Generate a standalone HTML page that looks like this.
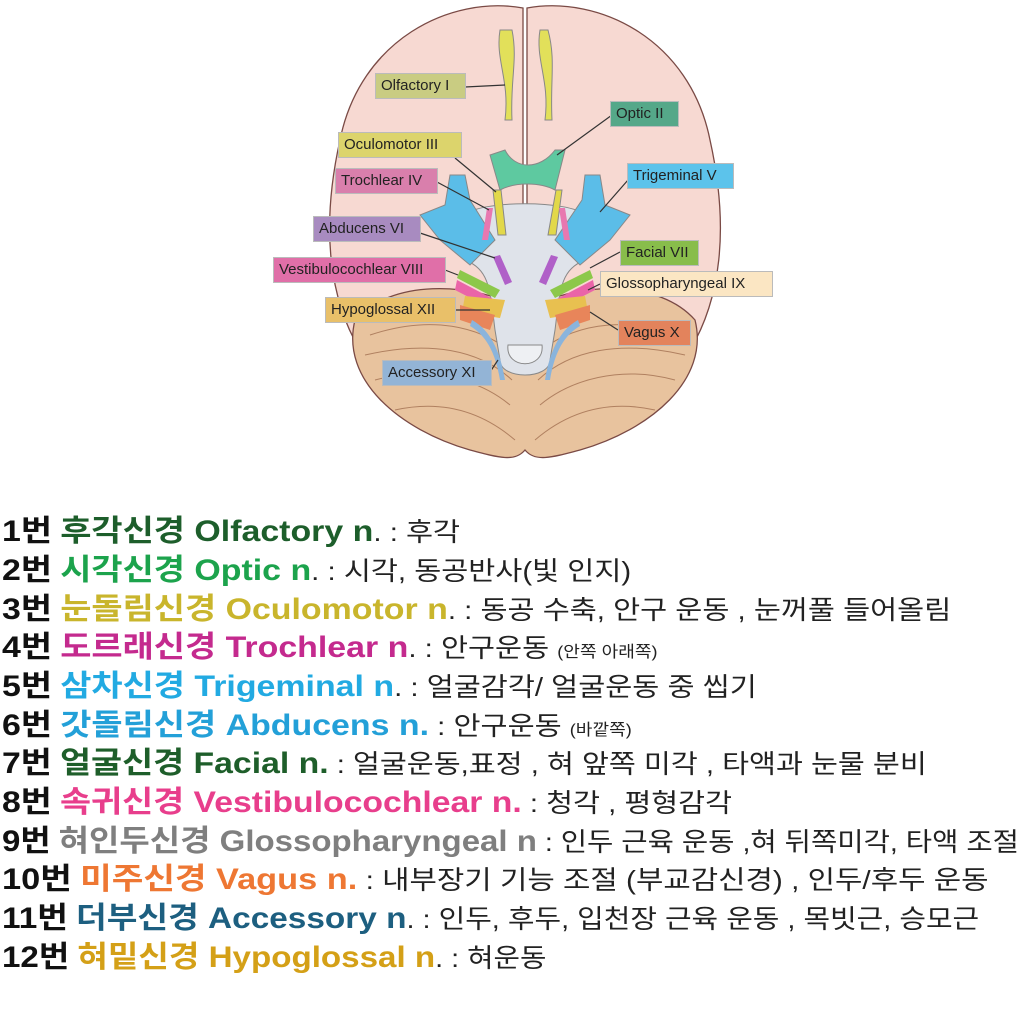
<!DOCTYPE html>
<html><head><meta charset="utf-8"><style>
body{margin:0;width:1024px;height:1012px;background:#fff;overflow:hidden;position:relative;font-family:"Liberation Sans","Noto Sans CJK KR",sans-serif}
.lab{position:absolute;font-size:15px;color:#222;border:1px solid #bbb;box-sizing:border-box;padding:0 5px;line-height:24px;white-space:nowrap}
.ln{position:absolute;left:2px;white-space:nowrap;font-size:26px;color:#222;transform-origin:0 50%;line-height:36px;transform:scaleX(1.13)}
.ln b{font-size:30px;font-weight:bold}
.k{color:#111}
</style></head><body>
<svg width="1024" height="470" style="position:absolute;left:0;top:0">
<g stroke="#7a4a45" stroke-width="1.3">
<path d="M527 8 C600 -5 690 40 710 140 C730 230 720 300 690 350 C660 400 620 420 560 430 L527 420 Z" fill="#f7d9d2"/>
<path d="M523 8 C450 -5 360 40 340 140 C320 230 330 300 360 350 C390 400 430 420 490 430 L523 420 Z" fill="#f7d9d2"/>
<path d="M525 310 C470 280 390 280 355 320 C340 380 400 430 470 450 C500 458 515 462 525 450 C535 462 550 458 580 450 C650 430 710 380 695 320 C660 280 580 280 525 310Z" fill="#e8c39e"/>
</g>
<g stroke="#b08060" fill="none" stroke-width="1">
<path d="M370 335 C430 315 480 325 515 355"/><path d="M365 355 C430 340 480 350 512 380"/><path d="M375 380 C430 365 480 380 510 405"/><path d="M395 410 C440 400 480 410 515 440"/>
<path d="M680 335 C620 315 570 325 535 355"/><path d="M685 355 C620 340 570 350 538 380"/><path d="M675 380 C620 365 570 380 540 405"/><path d="M655 410 C610 400 570 410 535 440"/>
</g>
<path d="M465 215 C480 200 570 200 585 215 L585 260 C560 270 560 290 555 330 L550 360 C550 380 500 380 500 360 L495 330 C490 290 490 270 465 260Z" fill="#dfe3ea" stroke="#888"/>
<path d="M508 345 C505 370 545 370 542 345 Z" fill="#eef0f3" stroke="#888"/>
<path d="M500 30 C495 60 510 80 505 120 L512 120 C510 80 518 60 512 30Z" fill="#e2e05a" stroke="#888"/>
<path d="M540 30 C535 60 550 80 545 120 L552 120 C550 80 556 60 548 30Z" fill="#e2e05a" stroke="#888"/>
<path d="M490 155 L505 150 C515 170 540 170 555 150 L565 150 L555 190 C540 182 515 182 500 190Z" fill="#5ec9a0" stroke="#888"/>
<path d="M450 175 L465 175 L470 200 L495 240 L470 265 L440 240 L420 215 L445 205Z" fill="#5bbde8" stroke="#888"/>
<path d="M600 175 L585 175 L582 200 L555 240 L580 265 L610 240 L630 215 L605 205Z" fill="#5bbde8" stroke="#888"/>
<path d="M493 190 L498 235 L506 235 L501 190Z" fill="#e2d84a" stroke="#888"/>
<path d="M556 190 L548 235 L556 235 L562 190Z" fill="#e2d84a" stroke="#888"/>
<path d="M487 208 L482 240 L488 240 L493 208Z" fill="#e878b0"/>
<path d="M565 208 L570 240 L564 240 L559 208Z" fill="#e878b0"/>
<path d="M493 257 L505 285 L512 282 L500 255Z" fill="#b060c8"/>
<path d="M558 257 L546 285 L539 282 L551 255Z" fill="#b060c8"/>
<path d="M460 270 L500 290 L495 298 L457 278Z" fill="#8cc84a"/>
<path d="M590 270 L550 290 L555 298 L593 278Z" fill="#8cc84a"/>
<path d="M457 280 L495 300 L490 308 L455 290Z" fill="#ea64a8"/>
<path d="M593 280 L555 300 L560 308 L595 290Z" fill="#ea64a8"/>
<path d="M465 296 L505 300 L500 318 L462 312Z" fill="#e8c050"/>
<path d="M585 296 L545 300 L550 318 L588 312Z" fill="#e8c050"/>
<path d="M460 305 L495 315 L490 330 L460 320Z" fill="#e8855a"/>
<path d="M590 305 L555 315 L560 330 L590 320Z" fill="#e8855a"/>
<path d="M472 320 C490 330 500 350 505 380 L500 380 C495 350 485 335 470 326Z" fill="#8ab4dc"/>
<path d="M578 320 C560 330 550 350 545 380 L550 380 C555 350 565 335 580 326Z" fill="#8ab4dc"/>
<g stroke="#333" stroke-width="1.2">
<line x1="465" y1="87" x2="505" y2="85"/><line x1="612" y1="115" x2="557" y2="155"/><line x1="455" y1="158" x2="496" y2="192"/>
<line x1="437" y1="182" x2="489" y2="210"/><line x1="628" y1="180" x2="600" y2="212"/><line x1="420" y1="233" x2="495" y2="258"/>
<line x1="620" y1="252" x2="590" y2="268"/><line x1="445" y1="270" x2="458" y2="275"/><line x1="600" y1="284" x2="588" y2="290"/>
<line x1="455" y1="310" x2="490" y2="310"/><line x1="618" y1="330" x2="590" y2="312"/><line x1="490" y1="372" x2="498" y2="360"/>
</g>
</svg>
<div class="lab" style="left:375px;top:73px;width:91px;background:#c9cc82">Olfactory I</div>
<div class="lab" style="left:610px;top:101px;width:69px;background:#55a889">Optic II</div>
<div class="lab" style="left:338px;top:132px;width:124px;background:#dcd46c">Oculomotor III</div>
<div class="lab" style="left:335px;top:168px;width:103px;background:#d97fac">Trochlear IV</div>
<div class="lab" style="left:627px;top:163px;width:107px;background:#5cc3eb">Trigeminal V</div>
<div class="lab" style="left:313px;top:216px;width:108px;background:#a88bc0">Abducens VI</div>
<div class="lab" style="left:620px;top:240px;width:79px;background:#88bd4b">Facial VII</div>
<div class="lab" style="left:273px;top:257px;width:173px;background:#e06fa8">Vestibulocochlear VIII</div>
<div class="lab" style="left:600px;top:271px;width:173px;background:#fbe6c3">Glossopharyngeal IX</div>
<div class="lab" style="left:325px;top:297px;width:131px;background:#e9c069">Hypoglossal XII</div>
<div class="lab" style="left:618px;top:320px;width:73px;background:#e3835c">Vagus X</div>
<div class="lab" style="left:382px;top:360px;width:110px;background:#93b4d6">Accessory XI</div>

<div class="ln" style="top:514px"><b class="k">1번</b> <b style="color:#1d5e2b">후각신경 Olfactory n</b>. :  후각</div>
<div class="ln" style="top:553px"><b class="k">2번</b> <b style="color:#1ca34c">시각신경 Optic n</b>. : 시각, 동공반사(빛 인지)</div>
<div class="ln" style="top:592px"><b class="k">3번</b> <b style="color:#c9b52c">눈돌림신경 Oculomotor n</b>. : 동공 수축, 안구 운동 , 눈꺼풀 들어올림</div>
<div class="ln" style="top:630px"><b class="k">4번</b> <b style="color:#c42a8e">도르래신경 Trochlear n</b>.  : 안구운동 <span style="font-size:16px">(안쪽 아래쪽)</span></div>
<div class="ln" style="top:669px"><b class="k">5번</b> <b style="color:#22aae2">삼차신경 Trigeminal n</b>. :  얼굴감각/ 얼굴운동 중 씹기</div>
<div class="ln" style="top:708px"><b class="k">6번</b> <b style="color:#23a0d8">갓돌림신경 Abducens n.</b> :  안구운동 <span style="font-size:16px">(바깥쪽)</span></div>
<div class="ln" style="top:746px;transform:scaleX(1.125)"><b class="k">7번</b> <b style="color:#1e5e2a">얼굴신경 Facial n.</b> :  얼굴운동,표정 , 혀 앞쪽 미각 , 타액과 눈물 분비</div>
<div class="ln" style="top:785px;transform:scaleX(1.125)"><b class="k">8번</b> <b style="color:#e83e8c">속귀신경 Vestibulocochlear n.</b> :  청각 , 평형감각</div>
<div class="ln" style="top:824px;transform:scaleX(1.1)"><b class="k">9번</b> <b style="color:#7f7f7f">혀인두신경 Glossopharyngeal n</b> : 인두 근육 운동 ,혀 뒤쪽미각, 타액 조절</div>
<div class="ln" style="top:862px;transform:scaleX(1.145)"><b class="k">10번</b> <b style="color:#ee7733">미주신경 Vagus n.</b>  : 내부장기 기능 조절 (부교감신경) , 인두/후두 운동</div>
<div class="ln" style="top:901px;transform:scaleX(1.112)"><b class="k">11번</b> <b style="color:#1d5f80">더부신경 Accessory n</b>. : 인두, 후두, 입천장 근육 운동 , 목빗근, 승모근</div>
<div class="ln" style="top:940px;transform:scaleX(1.105)"><b class="k">12번</b> <b style="color:#d4a017">혀밑신경 Hypoglossal n</b>. : 혀운동</div>
</body></html>
